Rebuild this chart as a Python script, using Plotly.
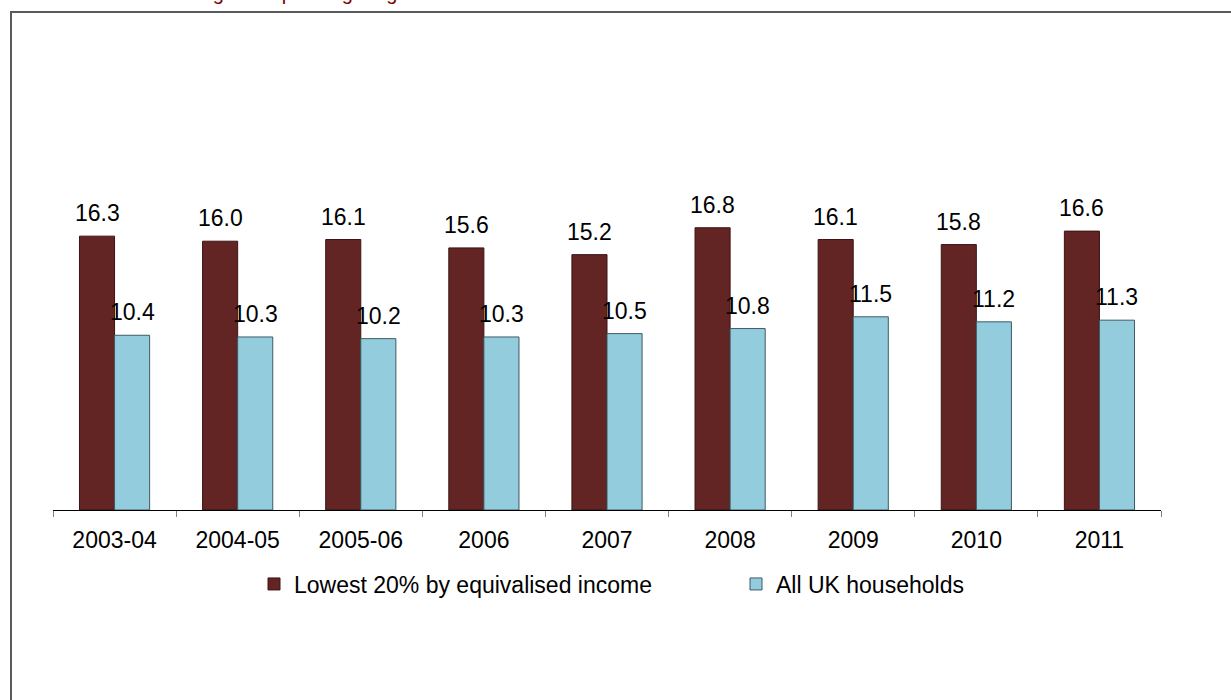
import plotly.graph_objects as go

categories = ["2003-04", "2004-05", "2005-06", "2006", "2007", "2008", "2009", "2010", "2011"]
lowest20 = [16.3, 16.0, 16.1, 15.6, 15.2, 16.8, 16.1, 15.8, 16.6]
all_uk = [10.4, 10.3, 10.2, 10.3, 10.5, 10.8, 11.5, 11.2, 11.3]
series_names = ["Lowest 20% by equivalised income", "All UK households"]
title_text = "Changes in spending on groceries"

W, H = 1231, 700
ML, MR, MT, MB = 53, 70, 110, 190
plot_h = H - MT - MB
plot_w = W - ML - MR
px_per_unit = 16.8
ymax = plot_h / px_per_unit

def px_to_paper_y(py):
    return (H - MB - py) / plot_h

def px_to_paper_x(px):
    return (px - ML) / plot_w

DARK = "#632523"
LIGHT = "#93CDDD"
FONT = "Arial, Liberation Sans, sans-serif"

fig = go.Figure()
fig.add_trace(go.Bar(x=categories, y=lowest20, name=series_names[0], legend="legend",
                     marker=dict(color=DARK, line=dict(color="#3b1414", width=1))))
fig.add_trace(go.Bar(x=categories, y=all_uk, name=series_names[1], legend="legend2",
                     marker=dict(color=LIGHT, line=dict(color="#3d5a66", width=1))))

annotations = []
for i, v in enumerate(lowest20):
    annotations.append(dict(x=i, y=v, xref="x", yref="y", text=f"{v:.1f}", showarrow=False,
                            xshift=-17.5, yshift=8, yanchor="bottom",
                            font=dict(family=FONT, size=23, color="#000")))
for i, v in enumerate(all_uk):
    annotations.append(dict(x=i, y=v, xref="x", yref="y", text=f"{v:.1f}", showarrow=False,
                            xshift=17.5, yshift=8, yanchor="bottom",
                            font=dict(family=FONT, size=23, color="#000")))
annotations.append(dict(x=px_to_paper_x(163), y=px_to_paper_y(6), xref="paper", yref="paper",
                        text=title_text, showarrow=False, xanchor="left", yanchor="bottom",
                        font=dict(family=FONT, size=20, color="#800000")))

legend_common = dict(orientation="h", xanchor="left", y=px_to_paper_y(584), yanchor="middle",
                     font=dict(family=FONT, size=23, color="#000"), itemwidth=30,
                     bgcolor="rgba(0,0,0,0)")

fig.update_layout(
    width=W, height=H,
    margin=dict(l=ML, r=MR, t=MT, b=MB),
    paper_bgcolor="white", plot_bgcolor="white",
    barmode="group", bargap=0.43, bargroupgap=0,
    showlegend=True,
    legend=dict(x=px_to_paper_x(254), **legend_common),
    legend2=dict(x=px_to_paper_x(736), **legend_common),
    xaxis=dict(type="category", range=[-0.5, len(categories) - 0.5],
               showline=True, linecolor="#000", linewidth=1, ticks="outside",
               ticklen=6, tickcolor="#808080", tickson="boundaries", showgrid=False,
               tickangle=0,
               tickfont=dict(family=FONT, size=23, color="#000"), ticklabelstandoff=9),
    yaxis=dict(range=[0, ymax], visible=False, showgrid=False, zeroline=False),
    annotations=annotations,
    shapes=[dict(type="rect", xref="paper", yref="paper",
                 x0=px_to_paper_x(11), x1=px_to_paper_x(W + 20),
                 y0=px_to_paper_y(H + 20), y1=px_to_paper_y(12),
                 line=dict(color="#5a5a5a", width=2), fillcolor="rgba(0,0,0,0)", layer="below")],
)

fig.write_html("out.html")
